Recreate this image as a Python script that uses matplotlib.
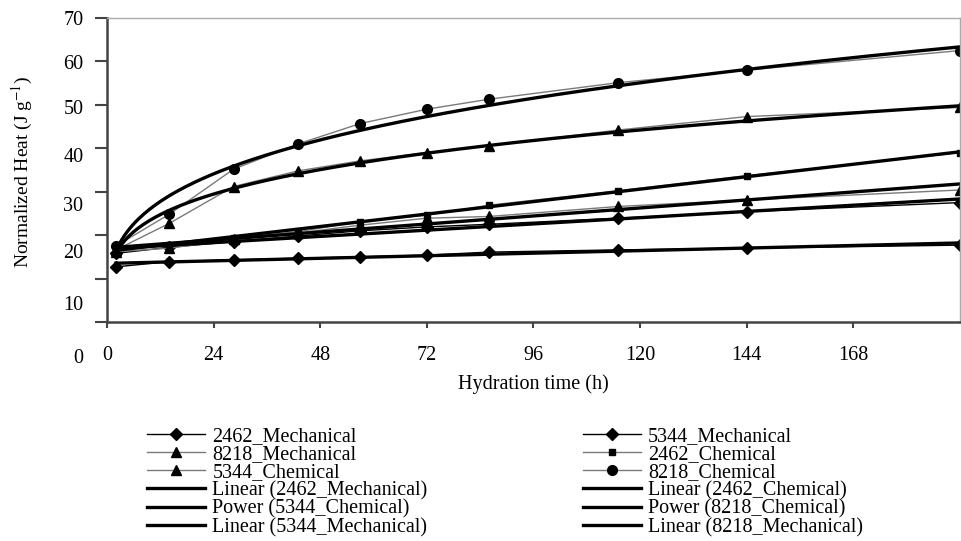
import numpy as np
import matplotlib
matplotlib.use('Agg')
import matplotlib.pyplot as plt
from matplotlib.transforms import ScaledTranslation

plt.rcParams['font.family'] = ['Liberation Serif', 'DejaVu Serif']
plt.rcParams['mathtext.fontset'] = 'stix'

# hydration time (h)
t = np.array([2, 14, 28.5, 43, 57, 72, 86, 115, 144, 192])

# normalized heat (J/g)
mech_2462 = [12.7, 13.9, 14.3, 14.7, 15.0, 15.4, 16.1, 16.6, 17.0, 17.7]
mech_5344 = [15.8, 17.2, 18.5, 19.8, 21.0, 21.9, 22.5, 23.9, 25.4, 27.5]
mech_8218 = [16.2, 17.0, 19.0, 20.5, 22.3, 23.9, 24.3, 26.6, 28.1, 30.4]
chem_2462 = [17.2, 17.8, 19.3, 20.8, 23.1, 24.6, 26.9, 30.2, 33.7, 39.0]
chem_5344 = [16.6, 22.7, 31.2, 34.8, 37.1, 39.0, 40.6, 44.2, 47.3, 49.4]
chem_8218 = [17.5, 24.8, 35.2, 41.0, 45.7, 49.0, 51.3, 55.1, 58.0, 62.5]

y_ticks = [0, 10, 20, 30, 40, 50, 60, 70]
# vertical drift of the y tick labels in the original (pixels, downward)
y_label_drift = [34, 24, 16, 12, 7, 2, 1, 0]
x_ticks = [0, 24, 48, 72, 96, 120, 144, 168]

fig = plt.figure(figsize=(9.62, 5.41), dpi=100)
ax = fig.add_axes([107/962, 1-322/541, 853/962, 304/541])

grey = '#7a7a7a'
h = {}
h['2462_Mechanical'], = ax.plot(t, mech_2462, color='black', lw=1, marker='D', ms=6)
h['5344_Mechanical'], = ax.plot(t, mech_5344, color='black', lw=1, marker='D', ms=6)
h['8218_Mechanical'], = ax.plot(t, mech_8218, color=grey, lw=1, marker='^', ms=7, mfc='black', mec='black')
h['2462_Chemical'], = ax.plot(t, chem_2462, color=grey, lw=1, marker='s', ms=4.5, mfc='black', mec='black')
h['5344_Chemical'], = ax.plot(t, chem_5344, color=grey, lw=1, marker='^', ms=7, mfc='black', mec='black')
h['8218_Chemical'], = ax.plot(t, chem_8218, color=grey, lw=1, marker='o', ms=7, mfc='black', mec='black')

# trend lines (fitted like Excel does)
tt = np.linspace(t.min(), t.max(), 300)

def linear(y):
    k, b = np.polyfit(t, y, 1)
    return k * tt + b

def power(y):
    b, lna = np.polyfit(np.log(t), np.log(y), 1)
    return np.exp(lna) * tt ** b

lw_tr = 2.4
h['Linear (2462_Mechanical)'], = ax.plot(tt, linear(mech_2462), color='black', lw=lw_tr)
h['Linear (2462_Chemical)'], = ax.plot(tt, linear(chem_2462), color='black', lw=lw_tr)
h['Power (5344_Chemical)'], = ax.plot(tt, power(chem_5344), color='black', lw=lw_tr)
h['Power (8218_Chemical)'], = ax.plot(tt, power(chem_8218), color='black', lw=lw_tr)
h['Linear (5344_Mechanical)'], = ax.plot(tt, linear(mech_5344), color='black', lw=lw_tr)
h['Linear (8218_Mechanical)'], = ax.plot(tt, linear(mech_8218), color='black', lw=lw_tr)

ax.set_xlim(0, 192)
ax.set_ylim(0, 70)
ax.set_xticks(x_ticks)
ax.set_yticks(y_ticks)
ax.tick_params(axis='x', direction='out', length=4, width=1.5, pad=13, labelsize=14.5, color='#444444')
ax.tick_params(axis='y', direction='out', length=9, width=1.5, pad=8, labelsize=14.5, color='#444444')
for lab, d in zip(ax.get_yticklabels(), y_label_drift):
    lab.set_transform(lab.get_transform() + ScaledTranslation(0, -d/100, fig.dpi_scale_trans))

for s in ['left', 'bottom']:
    ax.spines[s].set_color('#444444')
    ax.spines[s].set_linewidth(1.8)
for s in ['top', 'right']:
    ax.spines[s].set_color('#aaaaaa')
    ax.spines[s].set_linewidth(1)

ax.set_xlabel('Hydration time (h)', fontsize=14.5, labelpad=7)
fig.text(22/962, 1-172/541, 'Normalized Heat (J g$^{-1}$)', rotation=90,
         ha='center', va='center', fontsize=14)

order = ['2462_Mechanical', '8218_Mechanical', '5344_Chemical',
         'Linear (2462_Mechanical)', 'Power (5344_Chemical)', 'Linear (5344_Mechanical)',
         '5344_Mechanical', '2462_Chemical', '8218_Chemical',
         'Linear (2462_Chemical)', 'Power (8218_Chemical)', 'Linear (8218_Mechanical)']
fig.legend([h[k] for k in order], order, loc='upper left',
           bbox_to_anchor=(147/962, 1-427/541), ncol=2, frameon=False,
           fontsize=14.5, borderpad=0, borderaxespad=0, handlelength=2.9,
           handletextpad=0.35, labelspacing=-0.05, columnspacing=7.7)

fig.savefig('out.png', dpi=100)
